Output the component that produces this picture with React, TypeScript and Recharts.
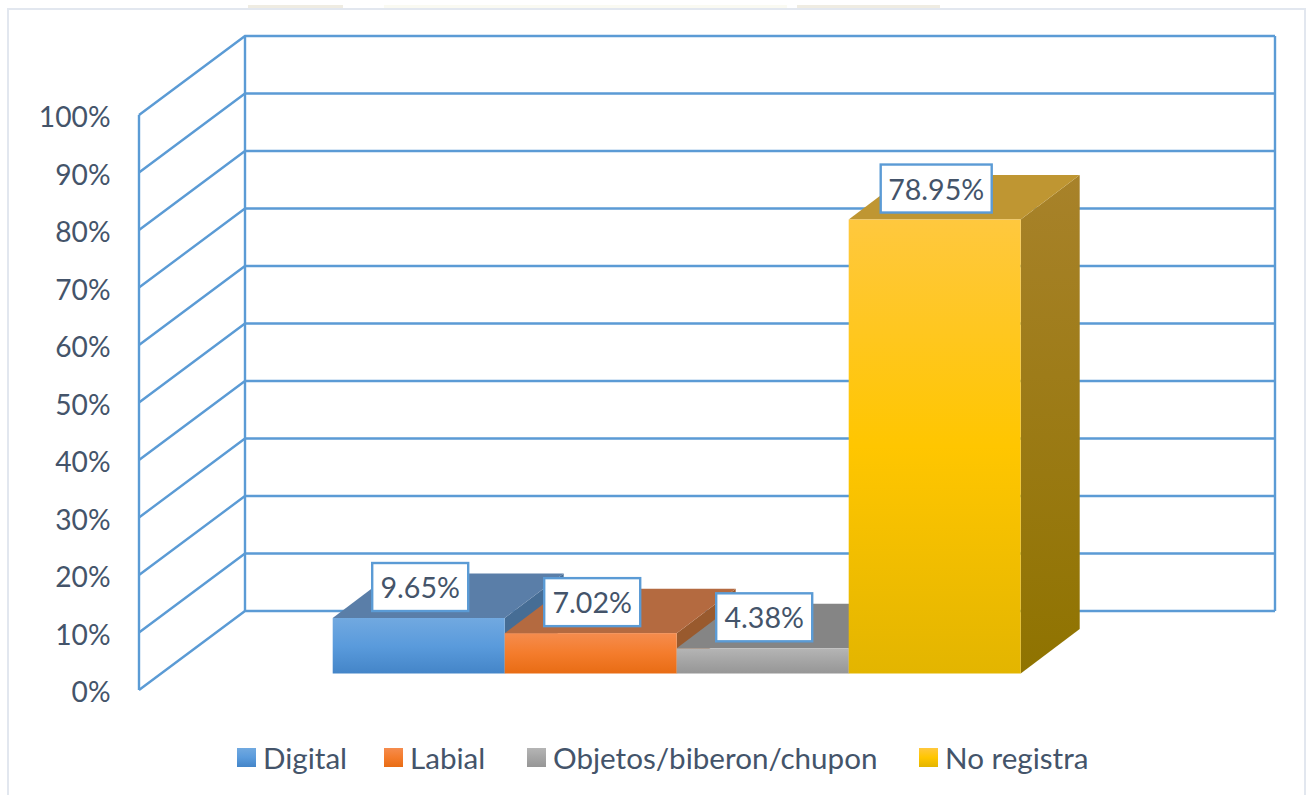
import React from "react";
import { BarChart, Bar, XAxis, YAxis, CartesianGrid, Legend, LabelList } from "recharts";

const categories = ["Caso"];
const seriesNames = ["Digital", "Labial", "Objetos/biberon/chupon", "No registra"];
const seriesValues = [9.65, 7.02, 4.38, 78.95];
const yTicks = [0, 10, 20, 30, 40, 50, 60, 70, 80, 90, 100];

const faceTop = ["#71a9e0", "#f58c4e", "#b5b5b5", "#ffc83e"];
const faceMid = ["#5a9bdc", "#f47c2c", "#a5a5a5", "#ffc600"];
const faceBottom = ["#4485c8", "#e86c14", "#969696", "#e3b500"];
const topColors = ["#5a7ea8", "#b46a40", "#858585", "#bf9632"];
const sideTop = ["#466d95", "#995a2e", "#707070", "#a8822a"];
const sideBottom = ["#466d95", "#995a2e", "#707070", "#8f7300"];

const rows = categories.map((c) => {
  const row: Record<string, string | number> = { category: c };
  seriesNames.forEach((n, i) => {
    row[n] = seriesValues[i];
  });
  return row;
});

const TEXT = "#44546a";
const LINE = "#5b9bd5";
const FONT = "Lato, Carlito, sans-serif";
const WALL_DX = 106;
const WALL_DY = 79;
const PLOT_H = 575;
const BAR_DX = 22;
const BAR_DY = 16.5;
const DEPTH_DX = 59;
const DEPTH_DY = 44.5;

function gridLine(props: any) {
  const { x1, x2, y1, index } = props;
  const top = y1 - WALL_DY;
  return (
    <g key={`grid-${index}-${y1}`} fill="none" stroke={LINE} strokeWidth={2.4}>
      <path d={`M${x1},${y1}L${x1 + WALL_DX},${top}L${x2 + WALL_DX},${top}`} />
      {y1 < 120 && (
        <path
          d={`M${x1},${y1}V${y1 + PLOT_H}M${x1 + WALL_DX},${top}V${top + PLOT_H}M${x2 + WALL_DX},${top}V${top + PLOT_H}`}
        />
      )}
    </g>
  );
}

function makeShape(i: number) {
  return function Shape3D(props: any) {
    const { x, y, width, height } = props;
    const l = x + BAR_DX;
    const r = l + width;
    const t = y - BAR_DY;
    const b = t + height;
    const dx = DEPTH_DX;
    const dy = DEPTH_DY;
    return (
      <g>
        <path
          d={`M${r},${t}L${r + dx},${t - dy}V${b - dy}L${r},${b}Z`}
          fill={`url(#side${i})`}
        />
        <path d={`M${l},${t}L${l + dx},${t - dy}H${r + dx}L${r},${t}Z`} fill={topColors[i]} />
        <rect x={l} y={t} width={width} height={height} fill={`url(#front${i})`} />
      </g>
    );
  };
}

function ValueBox(props: any) {
  const { x, y, width, value } = props;
  const text = `${Number(value).toFixed(2)}%`;
  const w = text.length > 5 ? 111 : 96;
  const cx = x + BAR_DX + width / 2 + 1.5;
  const cy = y - BAR_DY - 31;
  return (
    <g>
      <rect x={cx - w / 2} y={cy - 24} width={w} height={48} fill="#ffffff" stroke={LINE} strokeWidth={2.4} />
      <text x={cx} y={cy + 11} textAnchor="middle" fontFamily={FONT} fontSize={28.6} fill={TEXT}>
        {text}
      </text>
    </g>
  );
}

function YTick(props: any) {
  const { y, payload } = props;
  return (
    <text x={110.5} y={y + 12} textAnchor="end" fontFamily={FONT} fontSize={28.2} fill={TEXT}>
      {`${payload.value}%`}
    </text>
  );
}

const legendPos = [237, 384, 527, 919];

function LegendBox(props: any) {
  const payload = props.payload || [];
  return (
    <div style={{ position: "relative", width: 1308, height: 50 }}>
      {payload.map((p: any, idx: number) => {
        const i = seriesNames.indexOf(p.value);
        return (
          <div
            key={idx}
            style={{
              position: "absolute",
              left: legendPos[i],
              top: 0,
              display: "flex",
              alignItems: "center",
              whiteSpace: "nowrap",
              fontFamily: FONT,
              fontSize: 29.6,
              color: TEXT,
              height: 36,
            }}
          >
            <span
              style={{
                display: "inline-block",
                width: 19,
                height: 19,
                marginRight: 7,
                background: `linear-gradient(${faceTop[i]}, ${faceMid[i]} 50%, ${faceBottom[i]})`,
              }}
            />
            {p.value}
          </div>
        );
      })}
    </div>
  );
}

const residue = [
  { left: 248, width: 95, background: "#efece2" },
  { left: 384, width: 403, background: "#fafaf2" },
  { left: 797, width: 143, background: "#efece2" },
];

export default function App() {
  return (
    <div style={{ position: "absolute", left: 0, top: 0, width: 1308, height: 795, background: "#fff", overflow: "hidden" }}>
      {residue.map((s) => (
        <div key={s.left} style={{ position: "absolute", top: 5, height: 3, ...s }} />
      ))}
      <div
        style={{
          position: "absolute",
          left: 7,
          top: 8,
          width: 1299,
          height: 800,
          border: "2px solid #e2e7ef",
          boxSizing: "border-box",
        }}
      />
      <div style={{ position: "absolute", left: 0, top: 0 }}>
        <BarChart
          width={1308}
          height={795}
          data={rows}
          margin={{ top: 115, right: 139, bottom: 55, left: 79 }}
          barCategoryGap="16.67%"
          barGap={0}
        >
          <defs>
            {seriesNames.map((_, i) => (
              <linearGradient key={i} id={`front${i}`} x1="0" y1="0" x2="0" y2="1">
                <stop offset="0%" stopColor={faceTop[i]} />
                <stop offset="50%" stopColor={faceMid[i]} />
                <stop offset="100%" stopColor={faceBottom[i]} />
              </linearGradient>
            ))}
            {seriesNames.map((_, i) => (
              <linearGradient key={i} id={`side${i}`} x1="0" y1="0" x2="0" y2="1">
                <stop offset="0%" stopColor={sideTop[i]} />
                <stop offset="100%" stopColor={sideBottom[i]} />
              </linearGradient>
            ))}
          </defs>
          <CartesianGrid horizontal={gridLine as any} vertical={false} syncWithTicks />
          <XAxis dataKey="category" hide />
          <YAxis
            width={60}
            domain={[0, 100]}
            ticks={yTicks}
            interval={0}
            tick={YTick as any}
            axisLine={false}
            tickLine={false}
          />
          <Legend content={LegendBox as any} verticalAlign="bottom" wrapperStyle={{ left: 0, bottom: 6, width: 1308 }} />
          {seriesNames.map((n, i) => (
            <Bar key={n} dataKey={n} isAnimationActive={false} shape={makeShape(i) as any}>
              <LabelList dataKey={n} content={ValueBox as any} />
            </Bar>
          ))}
        </BarChart>
      </div>
    </div>
  );
}
